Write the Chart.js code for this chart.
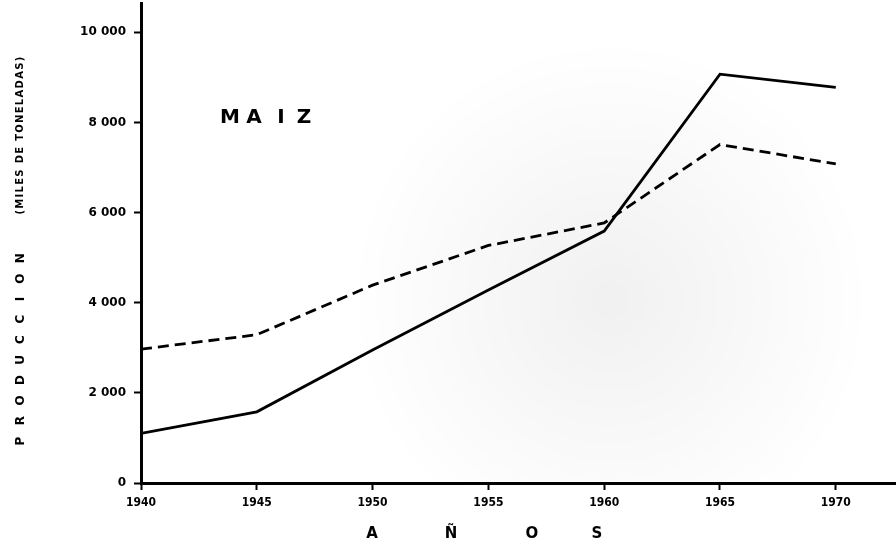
<!DOCTYPE html>
<html>
<head>
<meta charset="utf-8">
<script src="https://cdn.jsdelivr.net/npm/chart.js@4.4.1/dist/chart.umd.min.js"></script>
<style>
  html, body { margin: 0; padding: 0; background: #fff; }
  #wrap { width: 896px; height: 543px; position: relative; }
</style>
</head>
<body>
<div id="wrap"><canvas id="chart"></canvas></div>
<script>
// datos (miles de toneladas)
const years = [1940, 1945, 1950, 1955, 1960, 1965, 1970];
const serieContinua = [1100, 1580, 2950, 4280, 5590, 9070, 8780];
const serieDiscontinua = [2970, 3290, 4390, 5270, 5770, 7510, 7080];
const yTicks = [0, 2000, 4000, 6000, 8000, 10000];
const xTicks = [1940, 1945, 1950, 1955, 1960, 1965, 1970];

const tickFont = { family: "'DejaVu Sans Condensed', 'DejaVu Sans'", size: 12, weight: "bold" };

// textos: titulo, ejes, sombreado de fondo
const textos = {
  id: "textos",
  beforeDatasetsDraw(chart) {
    const ctx = chart.ctx;
    const a = chart.chartArea;
    ctx.save();
    const g = ctx.createRadialGradient(610, 300, 10, 610, 300, 260);
    g.addColorStop(0, "rgba(0,0,0,0.055)");
    g.addColorStop(1, "rgba(0,0,0,0)");
    ctx.fillStyle = g;
    ctx.fillRect(a.left + 2, a.top, a.right - a.left, a.bottom - a.top - 2);
    ctx.restore();
  },
  afterDraw(chart) {
    const ctx = chart.ctx;
    ctx.save();
    ctx.fillStyle = "#000";
    ctx.textAlign = "center";
    ctx.textBaseline = "alphabetic";

    // MAIZ
    ctx.font = "bold 20px 'DejaVu Sans'";
    const maiz = ["M", "A", "I", "Z"];
    const maizX = [230, 254, 281, 304];
    maiz.forEach((l, i) => ctx.fillText(l, maizX[i], 123));

    // A Ñ O S
    ctx.font = "bold 15px 'DejaVu Sans'";
    const anos = ["A", "Ñ", "O", "S"];
    const anosX = [372, 451, 532, 597];
    anos.forEach((l, i) => ctx.fillText(l, anosX[i], 538));

    // eje vertical
    ctx.translate(24, 0);
    ctx.rotate(-Math.PI / 2);
    ctx.font = "bold 12px 'DejaVu Sans'";
    const prod = "PRODUCCION".split("");
    prod.forEach((l, i) => ctx.fillText(l, -(441 - i * 20.3), 0));
    ctx.font = "bold 10px 'DejaVu Sans'";
    ctx.letterSpacing = "1.3px";
    ctx.fillText("(MILES DE TONELADAS)", -135, -1);
    ctx.restore();
  }
};

new Chart(document.getElementById("chart"), {
  type: "line",
  data: {
    datasets: [
      {
        label: "continua",
        data: years.map((y, i) => ({ x: y, y: serieContinua[i] })),
        borderColor: "#000",
        borderWidth: 2.8,
        pointRadius: 0,
        tension: 0
      },
      {
        label: "discontinua",
        data: years.map((y, i) => ({ x: y, y: serieDiscontinua[i] })),
        borderColor: "#000",
        borderWidth: 2.8,
        borderDash: [11, 6],
        pointRadius: 0,
        tension: 0
      }
    ]
  },
  options: {
    responsive: true,
    maintainAspectRatio: false,
    animation: false,
    devicePixelRatio: 1,
    layout: { padding: { top: 3, right: 0, left: 0, bottom: 0 } },
    plugins: {
      legend: { display: false },
      tooltip: { enabled: false }
    },
    scales: {
      x: {
        type: "linear",
        min: 1940,
        max: 1972.6,
        afterBuildTicks: s => { s.ticks = xTicks.map(v => ({ value: v })); },
        afterFit: s => { s.height = 60; s.paddingLeft = 0; s.paddingRight = 0; },
        border: { display: true, color: "#000", width: 3 },
        grid: { display: true, drawOnChartArea: false, drawTicks: true, tickLength: 7, tickWidth: 2, tickColor: "#000" },
        ticks: { color: "#000", font: tickFont, padding: 6, maxRotation: 0, callback: v => String(v) }
      },
      y: {
        min: 0,
        max: 10650,
        afterBuildTicks: s => { s.ticks = yTicks.map(v => ({ value: v })); },
        afterFit: s => { s.width = 141; s.paddingTop = 0; s.paddingBottom = 0; },
        border: { display: true, color: "#000", width: 3 },
        grid: { display: true, drawOnChartArea: false, drawTicks: true, tickLength: 7, tickWidth: 2, tickColor: "#000" },
        ticks: {
          color: "#000",
          font: { family: "'DejaVu Sans'", size: 12, weight: "bold" },
          padding: 8,
          callback: v => v === 0 ? "0" : (v / 1000) + " 000"
        }
      }
    }
  },
  plugins: [textos]
});
</script>
</body>
</html>
